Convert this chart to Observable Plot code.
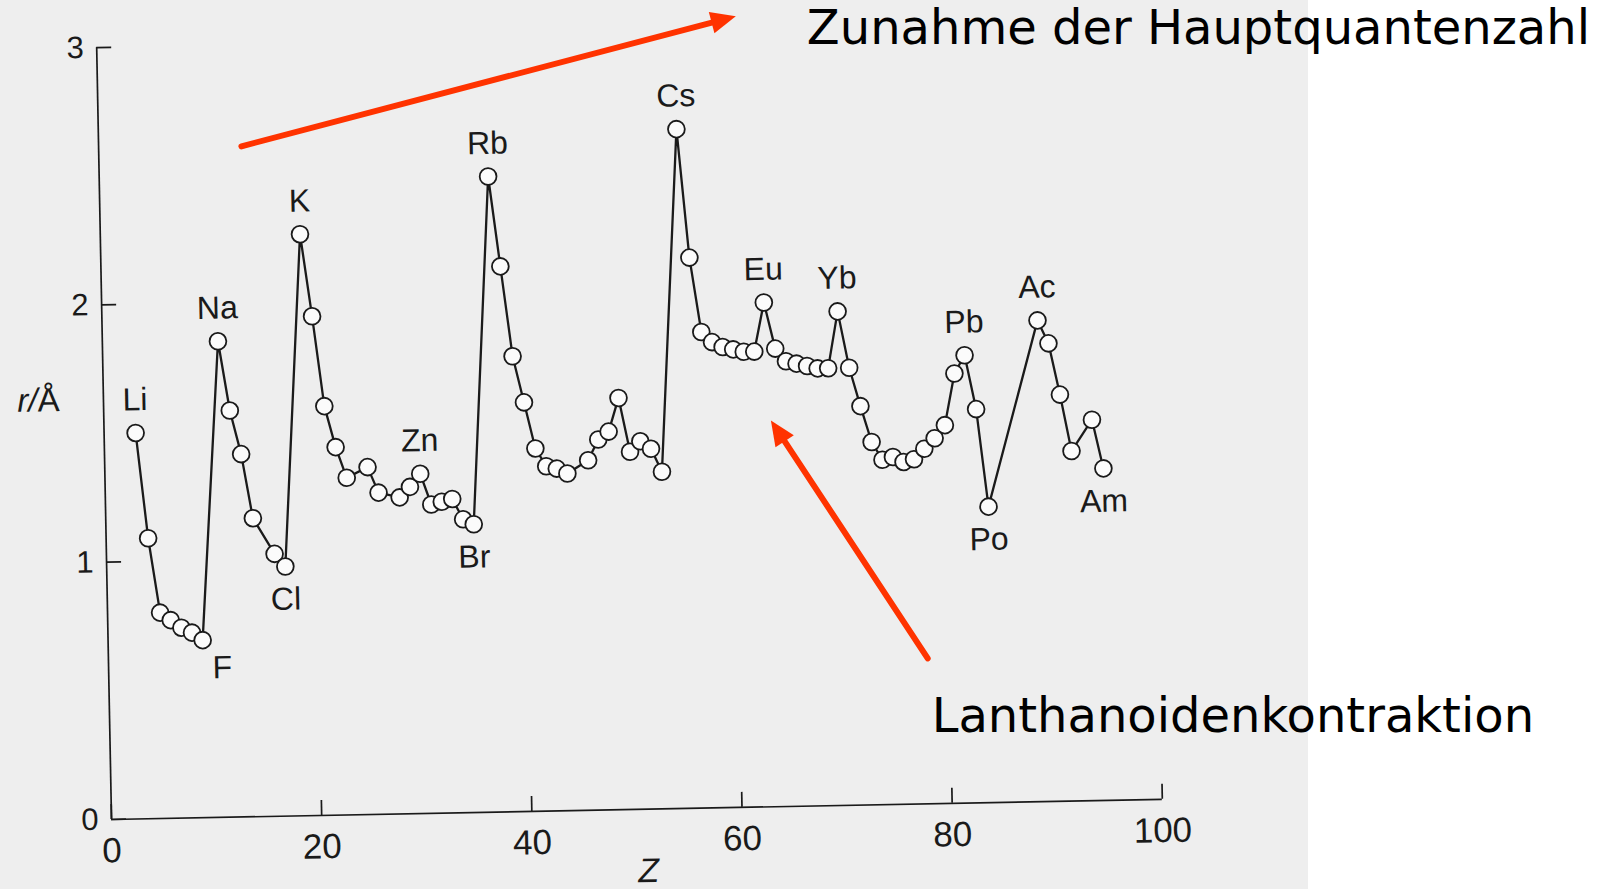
<!DOCTYPE html>
<html>
<head>
<meta charset="utf-8">
<script src="https://cdn.jsdelivr.net/npm/d3@7"></script>
<script src="https://cdn.jsdelivr.net/npm/@observablehq/plot@0.6"></script>
<style>
html, body { margin: 0; padding: 0; }
body { width: 1602px; height: 889px; overflow: hidden; position: relative;
  background: linear-gradient(to right, #eeeeee 0, #eeeeee 1308px, #ffffff 1308px); }
#chart, #anno { position: absolute; left: 0; top: 0; }
#chart svg { transform: rotate(-1.1deg); transform-origin: 111px 819px; overflow: visible; }
#anno { pointer-events: none; }
</style>
</head>
<body>
<div id="chart"></div>
<div id="anno"></div>
<script>
// ---- data ----
const atomicNumbers = [3,4,5,6,7,8,9, 11,12,13,14,16,17,
  19,20,21,22,23,25,26,28,29,30,31,32,33,34,35,
  37,38,39,40,41,42,43,44,46,47,48,49,50,51,52,53,
  55,56,57,58,59,60,61,62,63,64,65,66,67,68,69,70,71,72,73,74,75,76,77,78,79,80,81,82,83,84,
  89,90,91,92,94,95];
const symbols = ["Li","Be","B","C","N","O","F", "Na","Mg","Al","Si","S","Cl",
  "K","Ca","Sc","Ti","V","Mn","Fe","Ni","Cu","Zn","Ga","Ge","As","Se","Br",
  "Rb","Sr","Y","Zr","Nb","Mo","Tc","Ru","Pd","Ag","Cd","In","Sn","Sb","Te","I",
  "Cs","Ba","La","Ce","Pr","Nd","Pm","Sm","Eu","Gd","Tb","Dy","Ho","Er","Tm","Yb","Lu","Hf","Ta","W","Re","Os","Ir","Pt","Au","Hg","Tl","Pb","Bi","Po",
  "Ac","Th","Pa","U","Pu","Am"];
const radii = [1.50,1.09,0.80,0.77,0.74,0.72,0.69, 1.85,1.58,1.41,1.16,1.02,0.97,
  2.26,1.94,1.59,1.43,1.31,1.35,1.25,1.23,1.27,1.32,1.20,1.21,1.22,1.14,1.12,
  2.47,2.12,1.77,1.59,1.41,1.34,1.33,1.31,1.36,1.44,1.47,1.60,1.39,1.43,1.40,1.31,
  2.64,2.14,1.85,1.81,1.79,1.78,1.77,1.77,1.96,1.78,1.73,1.72,1.71,1.70,1.70,1.92,1.70,1.55,1.41,1.34,1.35,1.33,1.34,1.38,1.42,1.47,1.67,1.74,1.53,1.15,
  1.87,1.78,1.58,1.36,1.48,1.29];
const labelsAbove = ["Li","Na","K","Zn","Rb","Cs","Eu","Yb","Pb","Ac"];
const labelsBelow = ["Cl","Br","Po","Am"];
const labelsBelowRight = ["F"];
const xTicks = [0,20,40,60,80,100];
const yTicks = [0,1,2,3];
const xLabel = "Z";
const yLabel = "r/Å";
// annotations (in chart units: Z, r/Å)
const arrowStarts = [[12.36, 2.616], [77.66, 0.626]];
const arrowEnds   = [[59.4, 3.121], [62.74, 1.551]];
const annotationTexts = ["Zunahme der Hauptquantenzahl", "Lanthanoidenkontraktion"];
const annotationAnchors = [[66.16, 3.073], [78.04, 0.40]];

// ---- build ----
const data = atomicNumbers.map((z, i) => ({Z: z, sym: symbols[i], r: radii[i]}));
const W = 1602, H = 889;
const layout = {width: W, height: H, marginLeft: 111, marginRight: 440, marginTop: 47, marginBottom: 70};
const xOpt = {domain: [0, 100]};
const yOpt = {domain: [0, 3]};
const ink = "#1a1a1a";
const font = "'Liberation Sans', Arial, Helvetica, sans-serif";

const chart = Plot.plot({
  ...layout,
  x: xOpt, y: yOpt,
  style: {background: "transparent", fontFamily: font, color: ink, overflow: "visible"},
  marks: [
    Plot.ruleY([0], {stroke: ink, strokeWidth: 1.7}),
    Plot.ruleX([0], {stroke: ink, strokeWidth: 1.7}),
    Plot.axisX({ticks: xTicks, tickSize: -15, tickFormat: () => "", stroke: ink, strokeWidth: 1.7, label: null}),
    Plot.axisX({ticks: xTicks, tickSize: 0, tickPadding: 18, tickFormat: d3.format("d"), fontSize: 35, fill: ink, label: null}),
    Plot.axisY({ticks: yTicks, tickSize: -15, tickFormat: () => "", stroke: ink, strokeWidth: 1.7, label: null}),
    Plot.axisY({ticks: yTicks, tickSize: 0, tickPadding: 13, tickFormat: d3.format("d"), fontSize: 31, fill: ink, label: null}),
    Plot.text([xLabel], {frameAnchor: "bottom", lineAnchor: "middle", dx: 10.5, dy: 62, fontSize: 34, fontStyle: "italic", fill: ink}),
    Plot.text([yLabel], {frameAnchor: "left", lineAnchor: "middle", textAnchor: "middle", dx: -65, dy: -34, fontSize: 33, fill: ink}),
    Plot.line(data, {x: "Z", y: "r", stroke: ink, strokeWidth: 2.3}),
    Plot.dot(data, {x: "Z", y: "r", r: 8.4, fill: "#fbfbfb", stroke: ink, strokeWidth: 1.8}),
    Plot.text(data, {filter: d => labelsAbove.includes(d.sym), x: "Z", y: "r", text: "sym", dy: -33, fontSize: 32, fill: ink}),
    Plot.text(data, {filter: d => labelsBelow.includes(d.sym), x: "Z", y: "r", text: "sym", dy: 33, fontSize: 32, fill: ink}),
    Plot.text(data, {filter: d => labelsBelowRight.includes(d.sym), x: "Z", y: "r", text: "sym", dx: 19, dy: 28, fontSize: 32, fill: ink})
  ]
});
// italic r and slash, upright Å
for (const t of chart.querySelectorAll("text")) {
  if (t.textContent === yLabel) {
    t.textContent = "";
    const t1 = document.createElementNS("http://www.w3.org/2000/svg", "tspan");
    t1.setAttribute("font-style", "italic"); t1.textContent = "r/";
    const t2 = document.createElementNS("http://www.w3.org/2000/svg", "tspan");
    t2.textContent = "Å";
    t.appendChild(t1); t.appendChild(t2);
  }
}
document.getElementById("chart").appendChild(chart);

// annotation layer (not rotated)
const sx = Plot.scale({x: {...xOpt, range: [layout.marginLeft, W - layout.marginRight]}});
const sy = Plot.scale({y: {...yOpt, range: [H - layout.marginBottom, layout.marginTop]}});
const arrows = arrowStarts.map((s, i) => {
  const e = arrowEnds[i];
  const dxp = sx.apply(e[0]) - sx.apply(s[0]);
  const dyp = sy.apply(e[1]) - sy.apply(s[1]);
  return {x1: s[0], y1: s[1], x2: e[0], y2: e[1], angle: Math.atan2(dxp, -dyp) * 180 / Math.PI};
});
const texts = annotationTexts.map((t, i) => ({text: t, x: annotationAnchors[i][0], y: annotationAnchors[i][1]}));
const red = "#ff3300";
const arrowHead = {draw(ctx) { ctx.moveTo(0, 0); ctx.lineTo(-11, 25); ctx.lineTo(11, 25); ctx.closePath(); }};
const anno = Plot.plot({
  ...layout,
  x: xOpt, y: yOpt, axis: null,
  style: {background: "transparent"},
  marks: [
    Plot.arrow(arrows, {x1: "x1", y1: "y1", x2: "x2", y2: "y2", stroke: red, strokeWidth: 6, headLength: 0, insetEnd: 14}),
    Plot.dot(arrows, {x: "x2", y: "y2", symbol: arrowHead, rotate: "angle", fill: red, stroke: "none", r: 5}),
    Plot.text(texts, {x: "x", y: "y", text: "text", textAnchor: "start", lineAnchor: "middle", fontSize: 48, fontFamily: "'DejaVu Sans', Verdana, sans-serif", fill: "#000"})
  ]
});
document.getElementById("anno").appendChild(anno);
</script>
</body>
</html>
